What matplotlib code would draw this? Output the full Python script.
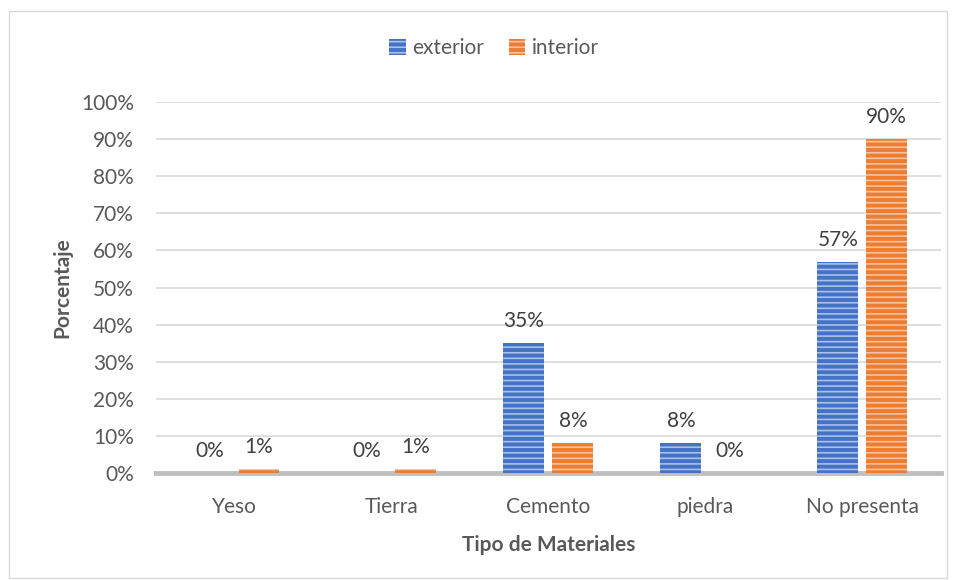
import matplotlib.pyplot as plt
import numpy as np

plt.rcParams['font.family'] = ['Lato', 'DejaVu Sans']
plt.rcParams['hatch.linewidth'] = 1.2

# datos
categorias = ['Yeso', 'Tierra', 'Cemento', 'piedra', 'No presenta']
exterior = [0, 0, 35, 8, 57]
interior = [1, 1, 8, 0, 90]
etiq_ext = ['0%', '0%', '35%', '8%', '57%']
etiq_int = ['1%', '1%', '8%', '0%', '90%']

gris = '#595959'
fs = 15
fig = plt.figure(figsize=(9.57, 5.80), dpi=100)
ax = fig.add_axes([0.163, 0.1845, 0.82, 0.6395])

# borde del área del gráfico
fig.patches.append(plt.Rectangle((0.009, 0.003), 0.981, 0.978, transform=fig.transFigure,
                                 fill=False, edgecolor='#d9d9d9', linewidth=1))

x = np.arange(len(categorias))
w = 0.26
off = 0.156
b1 = ax.bar(x - off, exterior, w, color='#4472C4', hatch='---', edgecolor='#a9c0ea',
            linewidth=0, label='exterior', zorder=3)
b2 = ax.bar(x + off, interior, w, color='#ED7D31', hatch='---', edgecolor='#f7c2a0',
            linewidth=0, label='interior', zorder=3)

for xi, v, t in zip(x - off, exterior, etiq_ext):
    ax.text(xi, v + 3.2, t, ha='center', va='bottom', fontsize=fs, color='#404040')
for xi, v, t in zip(x + off, interior, etiq_int):
    ax.text(xi, v + 3.2, t, ha='center', va='bottom', fontsize=fs, color='#404040')

ax.set_xlim(-0.5, len(categorias) - 0.5)
ax.set_ylim(0, 100)
ax.set_yticks(np.arange(0, 101, 10))
ax.set_yticklabels([f'{v}%' for v in range(0, 101, 10)])
ax.set_xticks(x)
ax.set_xticklabels(categorias)
ax.tick_params(length=0, labelsize=fs, labelcolor=gris)
ax.tick_params(axis='y', pad=16)
ax.tick_params(axis='x', pad=17)
ax.grid(axis='y', color='#d9d9d9', linewidth=1.2, zorder=0)
ax.set_axisbelow(True)
for s in ['top', 'right', 'left']:
    ax.spines[s].set_visible(False)
ax.spines['bottom'].set_color('#bfbfbf')
ax.spines['bottom'].set_linewidth(3.5)
ax.spines['bottom'].set_zorder(2.5)

ax.set_ylabel('Porcentaje', fontsize=fs, fontweight='bold', color=gris, labelpad=6)
ax.set_xlabel('Tipo de Materiales', fontsize=fs, fontweight='bold', color=gris, labelpad=13)

fig.legend(handles=[b1, b2], loc='center', bbox_to_anchor=(0.516, 0.917), ncol=2,
           frameon=False, fontsize=fs, labelcolor=gris, handlelength=0.8,
           handleheight=0.8, handletextpad=0.3, columnspacing=1.2)

fig.savefig('out.png', dpi=100)
